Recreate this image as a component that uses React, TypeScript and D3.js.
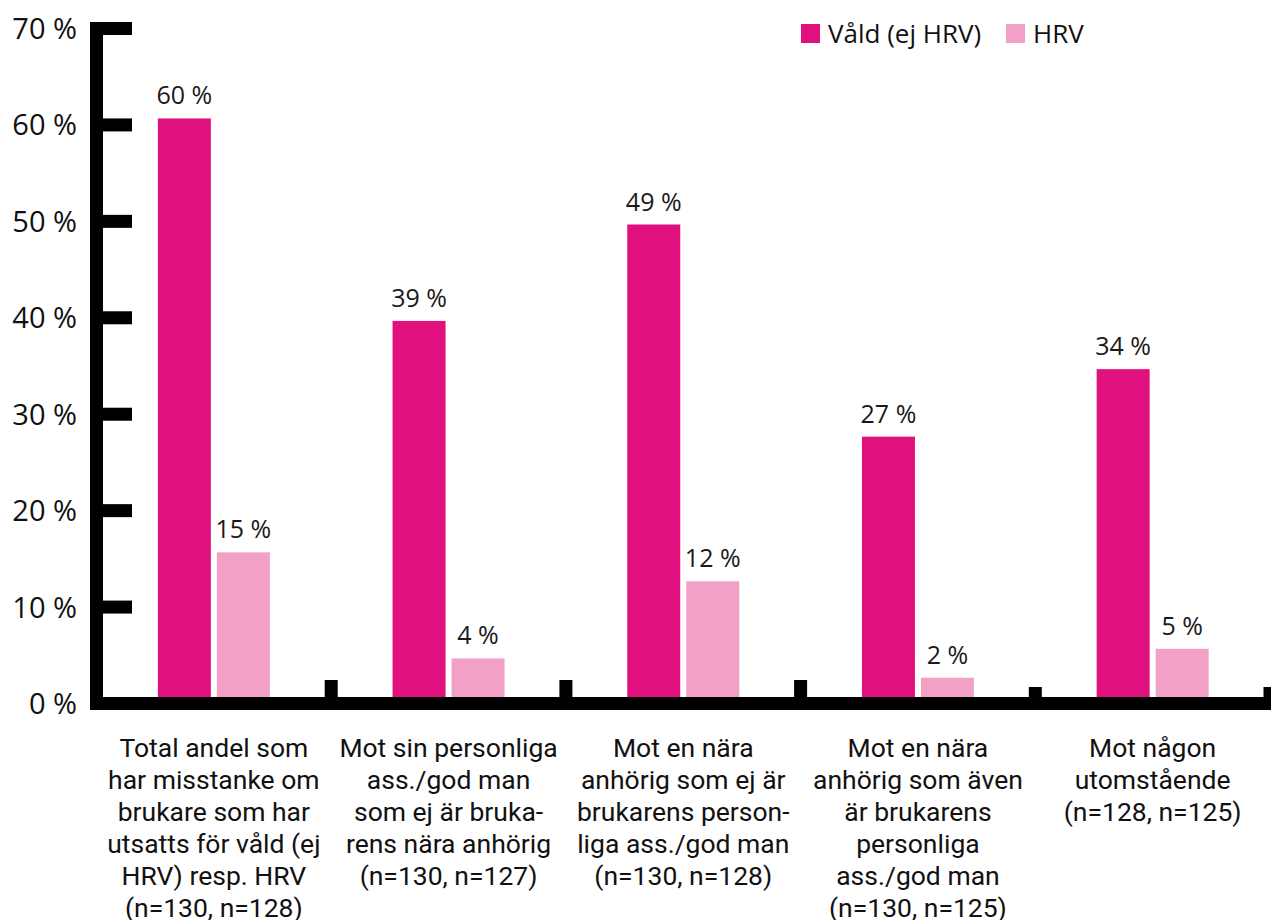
import React from 'react';
import * as d3 from 'd3';

// values
const categories = ['total', 'assistent', 'anhorigEj', 'anhorigAven', 'utomstaende'];
const categoryLines = [
  ['Total andel som', 'har misstanke om', 'brukare som har', 'utsatts för våld (ej', 'HRV) resp. HRV', '(n=130, n=128)'],
  ['Mot sin personliga', 'ass./god man', 'som ej är bruka-', 'rens nära anhörig', '(n=130, n=127)'],
  ['Mot en nära', 'anhörig som ej är', 'brukarens person-', 'liga ass./god man', '(n=130, n=128)'],
  ['Mot en nära', 'anhörig som även', 'är brukarens', 'personliga', 'ass./god man', '(n=130, n=125)'],
  ['Mot någon', 'utomstående', '(n=128, n=125)'],
];
const seriesNames = ['Våld (ej HRV)', 'HRV'];
const valdValues = [60, 39, 49, 27, 34];
const hrvValues = [15, 4, 12, 2, 5];
const yTicks = [0, 10, 20, 30, 40, 50, 60, 70];

const colors = ['#E0107F', '#F3A0C7'];

const App = () => {
  const W = 1271;
  const H = 920;
  const axisW = 13;
  const axisLeft = 90;
  const baseTop = 697;

  const y = d3.scaleLinear().domain([0, 70]).range([baseTop, 22]);
  const x = d3.scaleBand().domain(categories).range([axisLeft + axisW / 2, W - 1]);
  const bw = x.bandwidth();
  const x1 = d3
    .scaleBand()
    .domain(seriesNames)
    .range([bw / 2 - 56, bw / 2 + 56])
    .paddingInner(6 / 59)
    .paddingOuter(0);

  const series = [valdValues, hrvValues];
  const valueFont = "'Open Sans', sans-serif";

  return (
    <svg
      width={W}
      height={H}
      style={{ position: 'absolute', left: 0, top: 0, background: '#fff' }}
    >
      {/* bars */}
      {series.map((vals, si) =>
        vals.map((v, i) => (
          <rect
            key={`b${si}-${i}`}
            x={(x(categories[i]) as number) + (x1(seriesNames[si]) as number)}
            y={y(v)}
            width={x1.bandwidth()}
            height={baseTop - y(v)}
            fill={colors[si]}
          />
        ))
      )}
      {/* value labels */}
      {series.map((vals, si) =>
        vals.map((v, i) => (
          <text
            key={`l${si}-${i}`}
            x={(x(categories[i]) as number) + (x1(seriesNames[si]) as number) + x1.bandwidth() / 2}
            y={y(v) - 14}
            textAnchor="middle"
            fontFamily={valueFont}
            fontSize={25}
            fill="#1a1a1a"
          >
            {v} %
          </text>
        ))
      )}

      {/* y axis */}
      <rect x={axisLeft} y={y(70)} width={axisW} height={baseTop + axisW - y(70)} fill="#000" />
      {yTicks.map((t) => (
        <g key={`t${t}`}>
          <rect x={axisLeft} y={y(t)} width={42} height={axisW} fill="#000" />
          <text
            x={77}
            y={y(t) + axisW / 2 + 10.5}
            textAnchor="end"
            fontFamily={valueFont}
            fontSize={29}
            fill="#111"
          >
            {t} %
          </text>
        </g>
      ))}

      {/* x axis */}
      <rect x={axisLeft} y={baseTop} width={W - axisLeft} height={axisW} fill="#000" />
      {categories.map((c, i) => (
        <rect
          key={`s${c}`}
          x={(x(c) as number) + bw - axisW / 2}
          y={baseTop - (i < 3 ? 17 : 10)}
          width={axisW}
          height={i < 3 ? 17 : 10}
          fill="#000"
        />
      ))}

      {/* category labels */}
      {categories.map((c, i) => (
        <text
          key={`c${c}`}
          x={(x(c) as number) + bw / 2}
          y={757}
          textAnchor="middle"
          fontFamily="Roboto, sans-serif"
          fontSize={26.5}
          fill="#111"
        >
          {categoryLines[i].map((line, li) => (
            <tspan key={li} x={(x(c) as number) + bw / 2} dy={li === 0 ? 0 : 32}>
              {line}
            </tspan>
          ))}
        </text>
      ))}

      {/* legend */}
      {seriesNames.map((s, si) => {
        const lx = si === 0 ? 801 : 1006;
        return (
          <g key={`lg${s}`}>
            <rect x={lx} y={24} width={19} height={19} fill={colors[si]} />
            <text x={lx + 27} y={43} fontFamily={valueFont} fontSize={26} fill="#111">
              {s}
            </text>
          </g>
        );
      })}
    </svg>
  );
};

export default App;
